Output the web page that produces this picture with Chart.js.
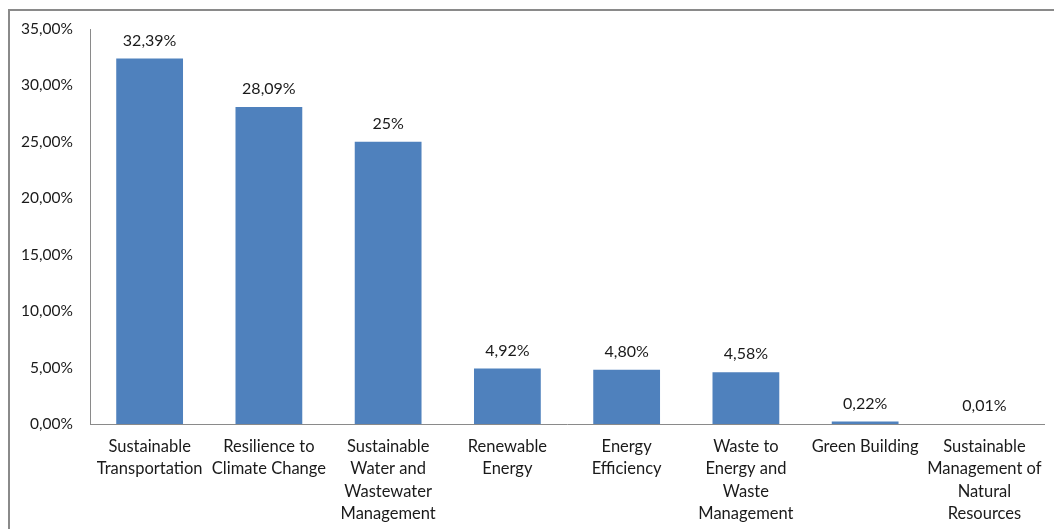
<!DOCTYPE html>
<html>
<head>
<meta charset="utf-8">
<script src="https://cdn.jsdelivr.net/npm/chart.js@4"></script>
<style>
html,body{margin:0;padding:0;background:#fff;}
#wrap{position:absolute;left:0;top:0;width:1054px;height:529px;}
</style>
</head>
<body>
<div id="wrap"><canvas id="c" width="1054" height="529"></canvas></div>
<script>
const categories = [
  ["Sustainable", "Transportation"],
  ["Resilience to", "Climate Change"],
  ["Sustainable", "Water and", "Wastewater", "Management"],
  ["Renewable", "Energy"],
  ["Energy", "Efficiency"],
  ["Waste to", "Energy and", "Waste", "Management"],
  ["Green Building"],
  ["Sustainable", "Management of", "Natural", "Resources"]
];
const values = [32.39, 28.09, 25, 4.92, 4.80, 4.58, 0.22, 0.01];
const valueLabels = ["32,39%", "28,09%", "25%", "4,92%", "4,80%", "4,58%", "0,22%", "0,01%"];
const yTicks = [0, 5, 10, 15, 20, 25, 30, 35];

const FONT = "Lato, 'Open Sans', sans-serif";
const TEXT = "#1a1a1a";

const frame = {
  id: 'frame',
  beforeDraw(chart) {
    const ctx = chart.ctx;
    ctx.save();
    ctx.strokeStyle = '#8a8a8a';
    ctx.lineWidth = 2;
    ctx.beginPath();
    ctx.moveTo(9, 529);
    ctx.lineTo(9, 10);
    ctx.lineTo(1054, 10);
    ctx.stroke();
    ctx.restore();
  }
};

const dataLabels = {
  id: 'dataLabels',
  afterDatasetsDraw(chart) {
    const ctx = chart.ctx;
    const meta = chart.getDatasetMeta(0);
    ctx.save();
    ctx.font = "16px " + FONT;
    ctx.fillStyle = TEXT;
    ctx.textAlign = 'center';
    ctx.textBaseline = 'middle';
    meta.data.forEach((bar, i) => {
      ctx.fillText(valueLabels[i], bar.x, bar.y - 18);
    });
    ctx.restore();
  }
};

new Chart(document.getElementById('c'), {
  type: 'bar',
  data: {
    labels: categories,
    datasets: [{
      data: values,
      backgroundColor: '#4F81BD',
      borderWidth: 0,
      barPercentage: 0.56,
      categoryPercentage: 1.0
    }]
  },
  options: {
    responsive: false,
    animation: false,
    devicePixelRatio: 1,
    layout: { padding: { left: 0, right: 7, top: 29, bottom: 0 } },
    plugins: { legend: { display: false }, tooltip: { enabled: false } },
    scales: {
      x: {
        grid: { display: false, drawTicks: false },
        border: { display: true, color: '#8a8a8a', width: 1 },
        ticks: {
          color: TEXT,
          font: { family: FONT, size: 16.5, lineHeight: 1.34 },
          padding: 12,
          maxRotation: 0,
          autoSkip: false
        },
        afterFit(scale) { scale.height = 105; }
      },
      y: {
        min: 0,
        max: 35,
        afterBuildTicks(scale) { scale.ticks = yTicks.map(v => ({ value: v })); },
        grid: { display: false, drawTicks: false },
        border: { display: true, color: '#8a8a8a', width: 1 },
        ticks: {
          color: TEXT,
          font: { family: FONT, size: 15.5 },
          padding: 17,
          callback: (v) => v.toFixed(2).replace('.', ',') + '%'
        },
        afterFit(scale) { scale.width = 90; }
      }
    }
  },
  plugins: [frame, dataLabels]
});
</script>
</body>
</html>
